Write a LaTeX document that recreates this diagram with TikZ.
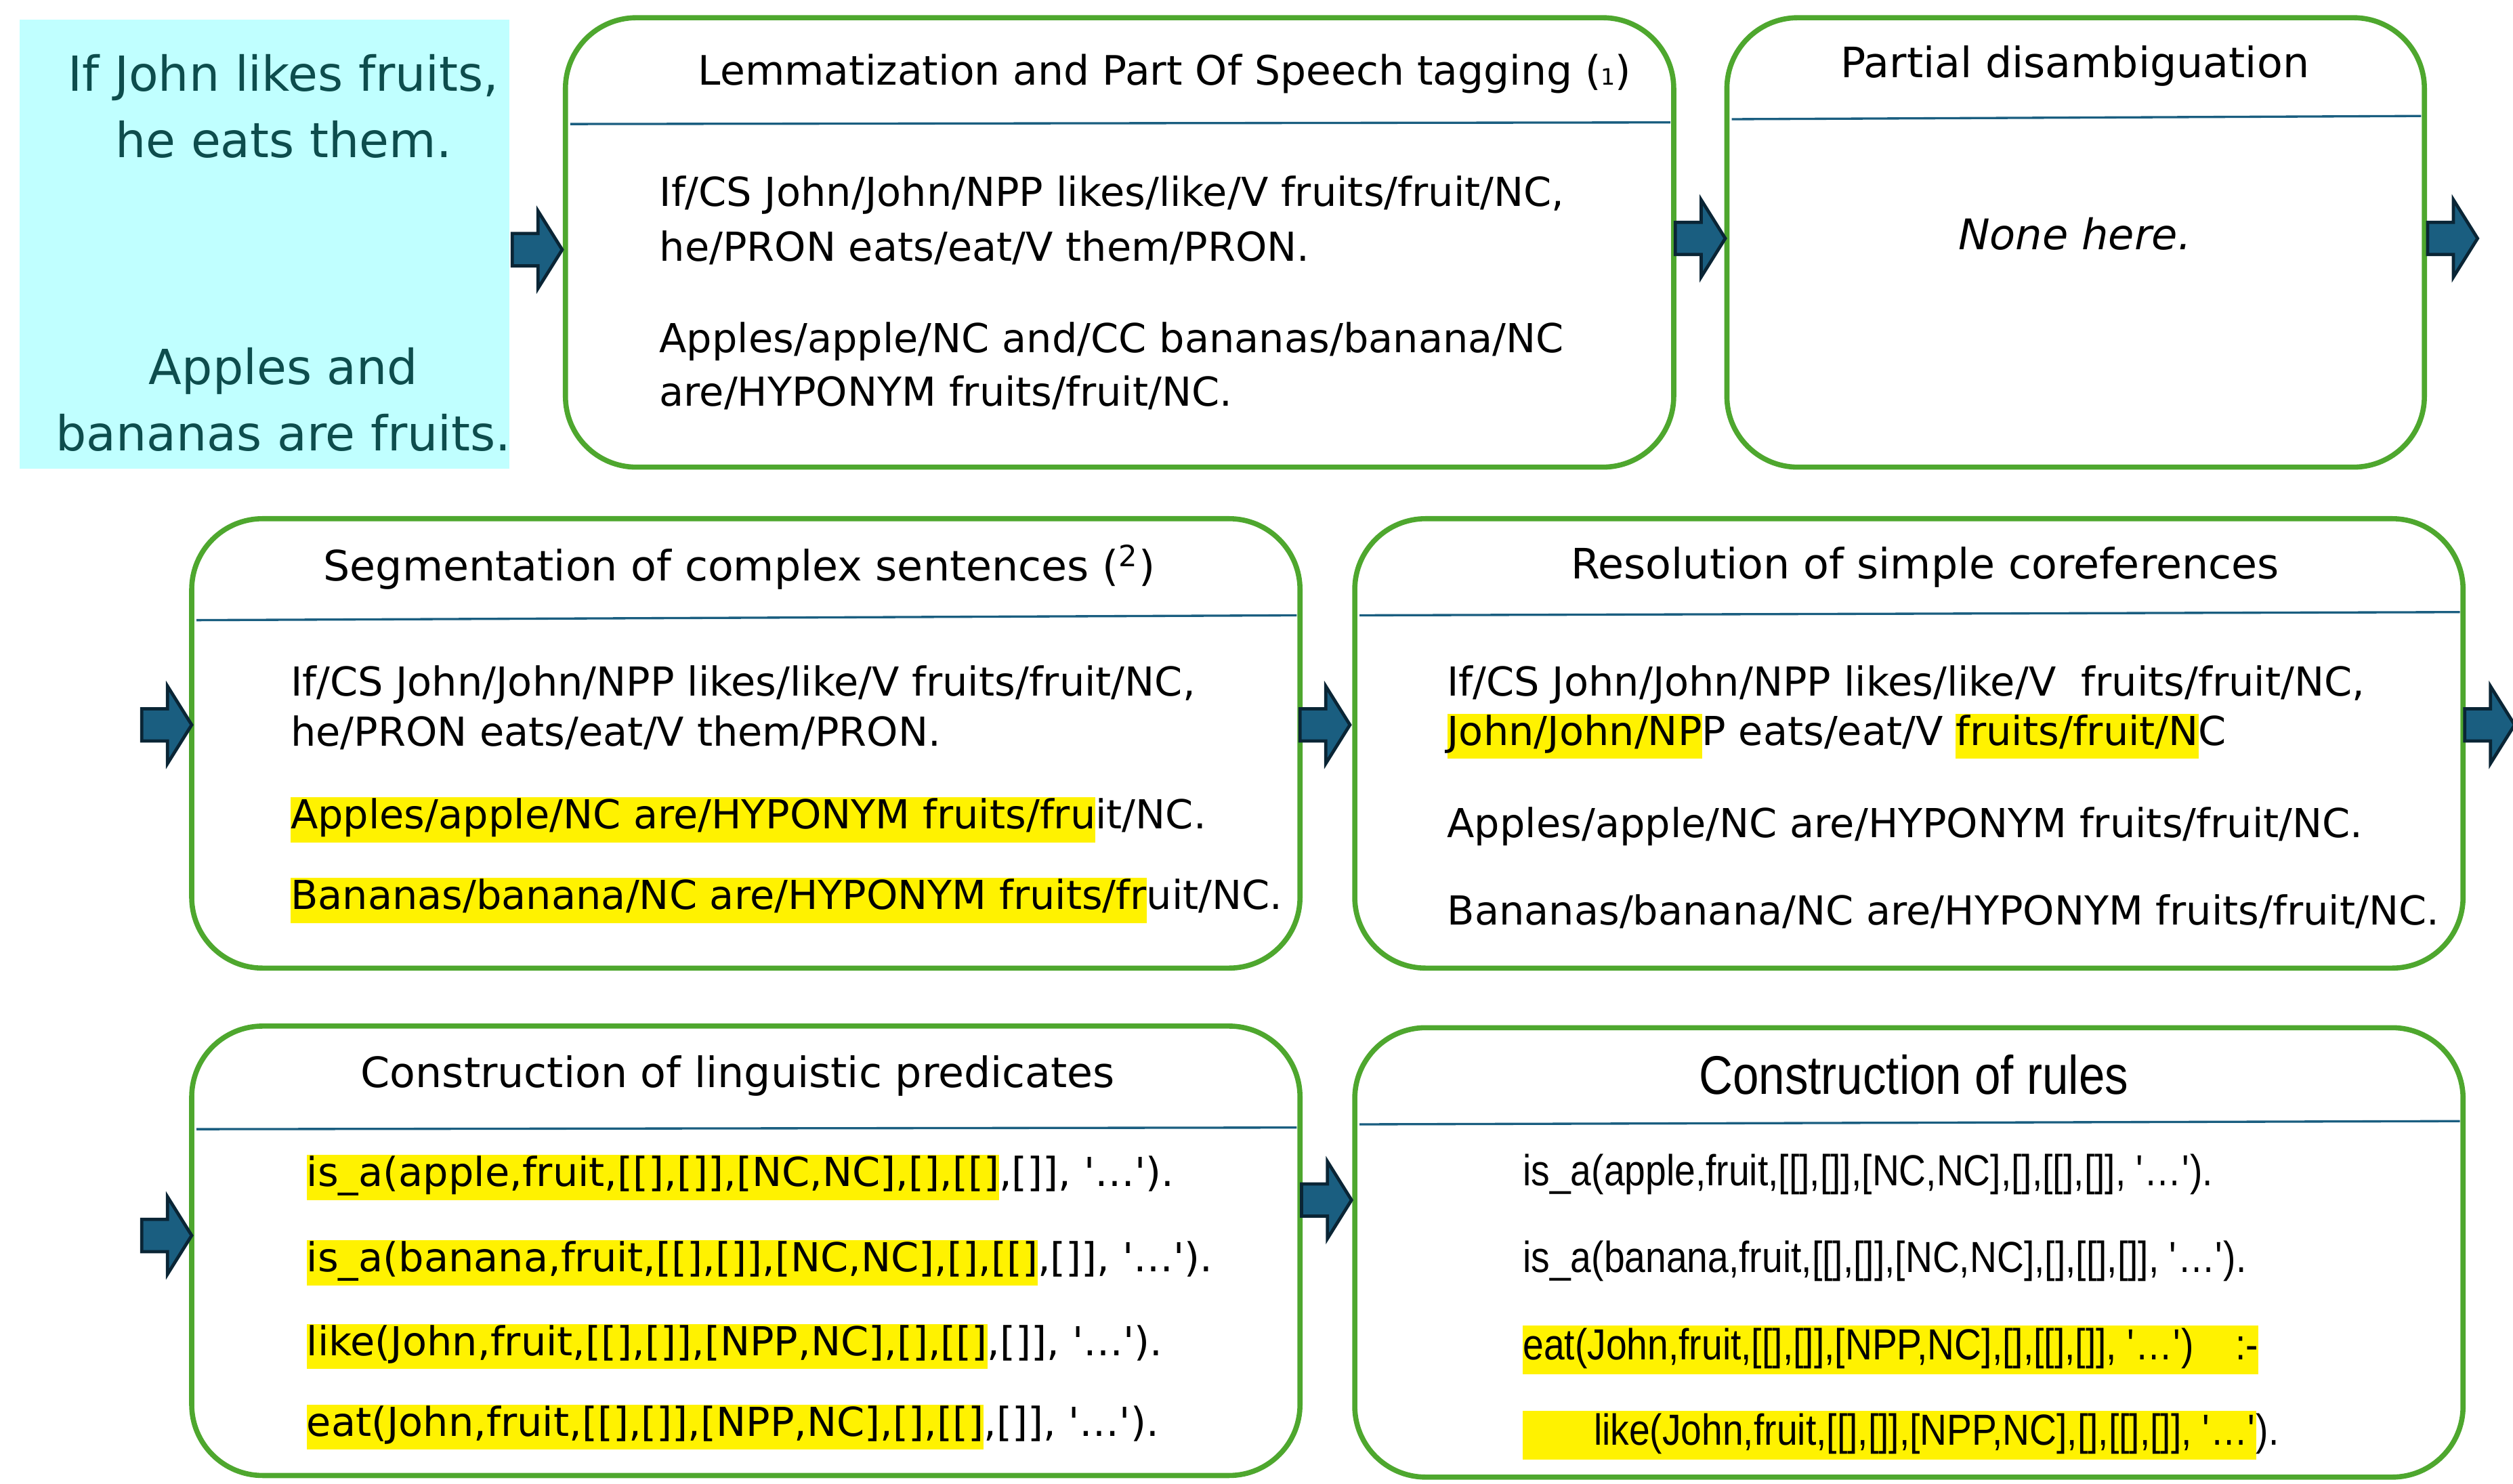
\documentclass[tikz,border=0pt]{standalone}
\usepackage{fontspec}
\setmainfont{DejaVu Sans}
\newfontfamily\rulefont{Liberation Sans}[FakeStretch=0.86]
\usepackage{xcolor}
\definecolor{cyanbg}{HTML}{C0FFFF}
\definecolor{boxgreen}{HTML}{4EA72E}
\definecolor{rulebl}{HTML}{1A5E80}
\definecolor{arrfill}{HTML}{1A5E80}
\definecolor{arrline}{HTML}{0A2535}
\definecolor{lefttxt}{HTML}{0D4D4D}
\newcommand{\hlt}[1]{{\setlength{\fboxsep}{0pt}\colorbox{yellow}{\strut #1}}}
\newcommand{\sq}{\textquotesingle}

\begin{document}
\begin{tikzpicture}[x=0.5pt,y=0.5pt,yscale=-1,
  box/.style={draw=boxgreen,line width=1.6pt,rounded corners=22pt},
  sep/.style={draw=rulebl,line width=0.7pt},
  ttl/.style={font=\fontsize{13}{15}\selectfont,inner sep=0pt},
  txt/.style={anchor=west,inner sep=0pt,font=\fontsize{12.4}{14}\selectfont},
  rtxt/.style={anchor=west,inner sep=0pt,font=\rulefont\fontsize{13.5}{15}\selectfont},
  barrow/.style={fill=arrfill,draw=arrline,line width=1pt}]
\useasboundingbox (0,0) rectangle (1560,921);

% arrow shape
\newcommand{\barr}[2]{\draw[barrow] (#1-15,#2-10) -- (#1+1,#2-10) -- (#1+1,#2-24)
  -- (#1+16,#2) -- (#1+1,#2+24) -- (#1+1,#2+10) -- (#1-15,#2+10) -- cycle;}

% input sentences
\fill[cyanbg] (12,12) rectangle (316,291);
\node[inner sep=0pt,align=center,text=lefttxt,font=\fontsize{15}{20.5}\selectfont] (s1) at (176,66) {If John likes fruits,\\he eats them.};
\node[inner sep=0pt,align=center,text=lefttxt,font=\fontsize{15}{20.5}\selectfont] (s2) at (176,248) {Apples and\\bananas are fruits.};

% box 1
\draw[box] (351,11) rectangle (1039,290);
\draw[sep] (354,77) -- (1037,76);
\node[ttl,font=\fontsize{12.6}{15}\selectfont] (t1) at (723,46) {Lemmatization and Part Of Speech tagging ({\scriptsize 1})};
\node[txt] (a1) at (409,121) {If/CS John/John/NPP likes/like/V fruits/fruit/NC,};
\node[txt] (a2) at (409,154) {he/PRON eats/eat/V them/PRON.};
\node[txt] (a3) at (409,212) {Apples/apple/NC and/CC bananas/banana/NC};
\node[txt] (a4) at (409,244) {are/HYPONYM fruits/fruit/NC.};

% box 2
\draw[box] (1072,11) rectangle (1505,290);
\draw[sep] (1075,74) -- (1503,72);
\node[ttl] (t2) at (1288,41) {Partial disambiguation};
\node[inner sep=0pt,font=\itshape\fontsize{13.1}{15}\selectfont] (n2) at (1288,145) {None here.};

% box 3
\draw[box] (119,322) rectangle (807,601);
\draw[sep] (122,385) -- (805,382);
\node[ttl] (t3) at (459,352) {Segmentation of complex sentences (\textsuperscript{2})};
\node[txt] (b1) at (180,425) {If/CS John/John/NPP likes/like/V fruits/fruit/NC,};
\node[txt] (b2) at (180,455) {he/PRON eats/eat/V them/PRON.};
\node[txt] (b3) at (180,509) {\hlt{Apples/apple/NC are/HYPONYM fruits/fru}it/NC.};
\node[txt] (b4) at (180,559) {\hlt{Bananas/banana/NC are/HYPONYM fruits/fr}uit/NC.};

% box 4
\draw[box] (841,322) rectangle (1529,601);
\draw[sep] (844,382) -- (1527,380);
\node[ttl] (t4) at (1195,352) {Resolution of simple coreferences};
\node[txt] (c1) at (898,425) {If/CS John/John/NPP likes/like/V\ \ fruits/fruit/NC,};
\node[txt] (c2) at (898,457) {\hlt{John/John/NP}P eats/eat/V \hlt{fruits/fruit/N}C};
\node[txt] (c3) at (898,513) {Apples/apple/NC are/HYPONYM fruits/fruit/NC.};
\node[txt] (c4) at (898,566) {Bananas/banana/NC are/HYPONYM fruits/fruit/NC.};

% box 5
\draw[box] (119,637) rectangle (807,916);
\draw[sep] (122,701) -- (805,700);
\node[ttl] (t5) at (458,668) {Construction of linguistic predicates};
\node[txt] (d1) at (190,731) {\hlt{is\_a(apple,fruit,[[],[]],[NC,NC],[],[[]},[]], \sq\ldots\sq).};
\node[txt] (d2) at (190,784) {\hlt{is\_a(banana,fruit,[[],[]],[NC,NC],[],[[]},[]], \sq\ldots\sq).};
\node[txt] (d3) at (190,836) {\hlt{like(John,fruit,[[],[]],[NPP,NC],[],[[]},[]], \sq\ldots\sq).};
\node[txt] (d4) at (190,886) {\hlt{eat(John,fruit,[[],[]],[NPP,NC],[],[[]},[]], \sq\ldots\sq).};

% box 6
\draw[box] (841,638) rectangle (1529,917);
\draw[sep] (844,698) -- (1527,696);
\node[ttl,font=\rulefont\fontsize{16.9}{18}\selectfont] (t6) at (1188,667) {Construction of rules};
\node[rtxt] (e1) at (945,729) {is\_a(apple,fruit,[[],[]],[NC,NC],[],[[],[]], \sq\ldots\sq).};
\node[rtxt] (e2) at (945,783) {is\_a(banana,fruit,[[],[]],[NC,NC],[],[[],[]], \sq\ldots\sq).};
\node[rtxt] (e3) at (945,838) {\hlt{eat(John,fruit,[[],[]],[NPP,NC],[],[[],[]], \sq\ldots\sq)\ \ \ \ :-}};
\node[rtxt] (e4) at (945,891) {\hlt{\hspace{22pt}like(John,fruit,[[],[]],[NPP,NC],[],[[],[]], \sq\ldots\sq}).};

% flow arrows
\barr{333}{155}
\barr{1055}{148}
\barr{1522}{148}
\barr{103}{450}
\barr{822}{450}
\barr{1545}{450}
\barr{103}{767}
\barr{823}{745}
\end{tikzpicture}
\end{document}
